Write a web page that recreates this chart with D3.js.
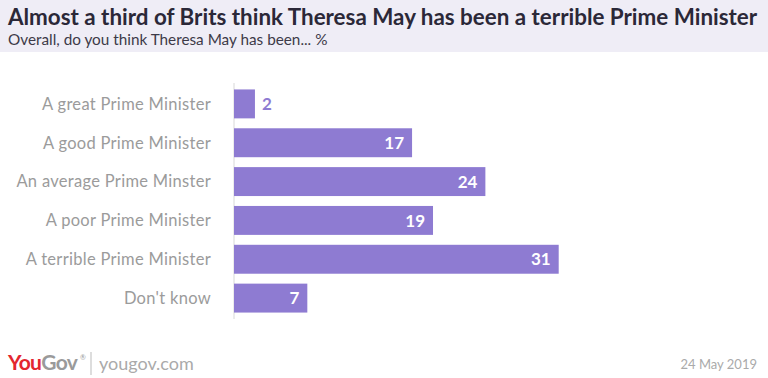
<!DOCTYPE html>
<html><head><meta charset="utf-8">
<script src="https://cdn.jsdelivr.net/npm/d3@7"></script>
<style>body{margin:0;background:#fff;font-family:Lato,"Open Sans",sans-serif;}</style>
</head><body>
<svg id="c" width="768" height="378"></svg>
<script>
const categories = ["A great Prime Minister","A good Prime Minister","An average Prime Minster","A poor Prime Minister","A terrible Prime Minister","Don't know"];
const values = [2,17,24,19,31,7];
const title = "Almost a third of Brits think Theresa May has been a terrible Prime Minister";
const subtitle = "Overall, do you think Theresa May has been... %";
const dateLabel = "24 May 2019";

const svg = d3.select("#c");
svg.append("rect").attr("x",0).attr("y",0).attr("width",768).attr("height",52).attr("fill","#efedf6");
svg.append("text").attr("x",8).attr("y",25).attr("font-size",22.4).attr("font-weight",700).attr("fill","#2b2838").text(title);
svg.append("text").attr("x",8).attr("y",45).attr("font-size",15.3).attr("fill","#3d3a48").text(subtitle);

const x = d3.scaleLinear().domain([0,31]).range([234,558.7]);
const y = d3.scaleBand().domain(categories).range([84,318]).paddingInner(0.255).paddingOuter(0.14);

svg.append("line").attr("x1",234).attr("x2",234).attr("y1",83).attr("y2",319).attr("stroke","#d8d8d8").attr("stroke-width",1);

svg.selectAll("rect.bar").data(values).enter().append("rect").attr("class","bar")
  .attr("x",x(0)).attr("y",(d,i)=>y(categories[i])).attr("width",d=>x(d)-x(0)).attr("height",y.bandwidth()).attr("fill","#8e7bd2");

svg.selectAll("text.cat").data(categories).enter().append("text").attr("class","cat")
  .attr("x",211).attr("y",d=>y(d)+y.bandwidth()/2).attr("dy","0.35em").attr("text-anchor","end")
  .attr("font-size",16.5).attr("letter-spacing",0.3).attr("fill","#9b9b9b").text(d=>d);

svg.selectAll("text.val").data(values).enter().append("text").attr("class","val")
  .attr("x",d=> d<4 ? x(d)+7 : x(d)-8)
  .attr("y",(d,i)=>y(categories[i])+y.bandwidth()/2).attr("dy","0.36em")
  .attr("text-anchor",d=> d<4 ? "start":"end")
  .attr("font-size",17).attr("font-weight",700).attr("fill",d=> d<4 ? "#8e7bd2":"#ffffff").text(d=>d);

// footer
const f = svg.append("text").attr("x",8).attr("y",370).attr("font-size",21).attr("font-weight",700).attr("letter-spacing",-0.6);
f.append("tspan").attr("fill","#e3262f").text("You");
f.append("tspan").attr("fill","#9a9a9a").text("Gov");
svg.append("text").attr("x",80).attr("y",360).attr("font-size",7).attr("fill","#9a9a9a").text("®");
svg.append("line").attr("x1",91).attr("x2",91).attr("y1",352).attr("y2",375).attr("stroke","#bbb");
svg.append("text").attr("x",99).attr("y",370).attr("font-size",18).attr("fill","#aaa").text("yougov.com");
svg.append("text").attr("x",757).attr("y",369).attr("text-anchor","end").attr("font-size",13).attr("fill","#aaa").text(dateLabel);
</script>
</body></html>
